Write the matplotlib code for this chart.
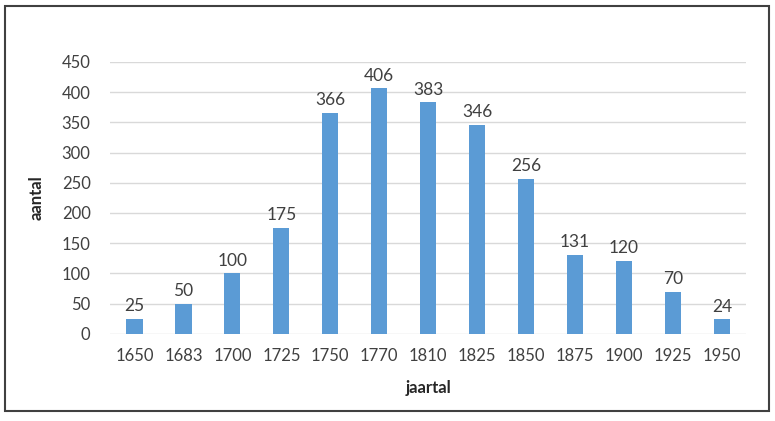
import matplotlib.pyplot as plt
from matplotlib.patches import Rectangle

plt.rcParams['font.family'] = ['Lato', 'DejaVu Sans']

jaren = ['1650', '1683', '1700', '1725', '1750', '1770', '1810', '1825',
         '1850', '1875', '1900', '1925', '1950']
aantal = [25, 50, 100, 175, 366, 406, 383, 346, 256, 131, 120, 70, 24]

fig = plt.figure(figsize=(7.75, 4.21), dpi=100)
ax = fig.add_axes([0.142, 0.207, 0.821, 0.646])

bars = ax.bar(jaren, aantal, width=0.33, color='#5B9BD5', zorder=3)
for b, v in zip(bars, aantal):
    ax.text(b.get_x() + b.get_width() / 2, v + 8, str(v), ha='center', va='bottom',
            fontsize=12.5, color='#404040')

ax.set_ylim(0, 450)
ax.set_xlim(-0.5, len(jaren) - 0.5)
ax.set_yticks(range(0, 451, 50))
ax.grid(axis='y', color='#D9D9D9', linewidth=1, zorder=0)
for s in ax.spines.values():
    s.set_visible(False)
ax.tick_params(length=0, labelsize=12, colors='#404040', pad=10)
ax.tick_params(axis='y', pad=14)

ax.set_xlabel('jaartal', fontsize=12, fontweight='bold', color='#262626', labelpad=12)
ax.set_ylabel('aantal', fontsize=12, fontweight='bold', color='#262626', labelpad=12)

# rand rond de figuur
fig.patches.append(Rectangle((0.0065, 0.024), 0.9855, 0.962, transform=fig.transFigure,
                             fill=False, edgecolor='#404040', linewidth=1.5))

plt.savefig('out.png', dpi=100)
